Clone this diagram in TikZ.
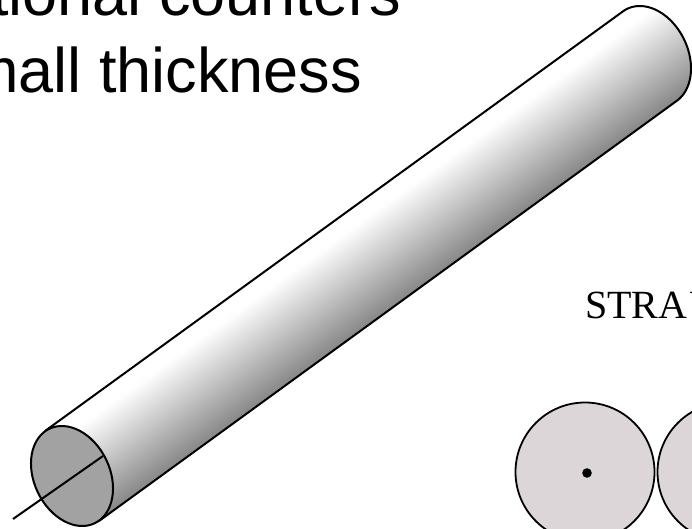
\documentclass[tikz,border=0pt]{standalone}
\usepackage{fontspec}
\setmainfont{Liberation Serif}
\newfontfamily\slidefont{Liberation Sans}
\usetikzlibrary{positioning}
\definecolor{facegray}{HTML}{A2A2A2}
\definecolor{tubegray}{HTML}{DDD6D9}

\begin{document}
\begin{tikzpicture}[
    x=1pt, y=-1pt,
    every node/.style={inner sep=0pt, outer sep=0pt},
    slidetext/.style={font=\slidefont\fontsize{63}{63}\selectfont, anchor=base east},
    outline/.style={draw=black, line width=2pt, line join=round},
    tube/.style={draw=black, line width=1.8pt, fill=tubegray},
    caparc/.style 2 args={insert path={-- plot[domain=172.6:352.6, samples=50]
        ({#1+52.4*cos(\x)*0.4337-37.9*sin(\x)*0.901},{#2+52.4*cos(\x)*0.901+37.9*sin(\x)*0.4337})}},
]
\useasboundingbox (0,0) rectangle (692,529);
\clip (0,0) rectangle (692,529);

% Slide title
\node[slidetext] (title) at (401,16) {tional counters};
\node[slidetext] (thickness) at (362,93) {mall thickness};

% Cylinder body, shaded across its axis
\begin{scope}
    \clip (45,431) [caparc={650}{56}] -- (99,521) -- cycle;
    \begin{scope}[shift={(361,266)}, rotate=36]
        \foreach \d in {-54,-52,...,54} {
            \pgfmathsetmacro{\shadeval}{max(0,(\d+52)/104-0.15)/0.85*47}
            \fill[black!\shadeval] (-500,\d) rectangle (500,60);
        }
    \end{scope}
\end{scope}
\draw[outline] (45,431) [caparc={650}{56}] -- (99,521);

% Front face and axis wire
\fill[facegray, rotate around={-64.3:(72,476)}] (72,476) ellipse [x radius=52.4, y radius=37.9];
\coordinate (wireend) at (13,519);
\coordinate (wiretip) at (103,456);
\draw[outline] (wireend) -- (wiretip);
\draw[outline, rotate around={-64.3:(72,476)}] (72,476) ellipse [x radius=52.4, y radius=37.9];

% Straw tubes
\node[font=\fontsize{40}{40}\selectfont, anchor=base west] (straw) at (585,318) {STRA\kern3pt W};
\node[tube, circle, minimum size=139pt] (tubeone) at (585,472) {};
\node[tube, circle, minimum size=139pt] (tubetwo) at (727,472) {};
\fill[black] (587,473) circle [radius=4.8];
\end{tikzpicture}
\end{document}
